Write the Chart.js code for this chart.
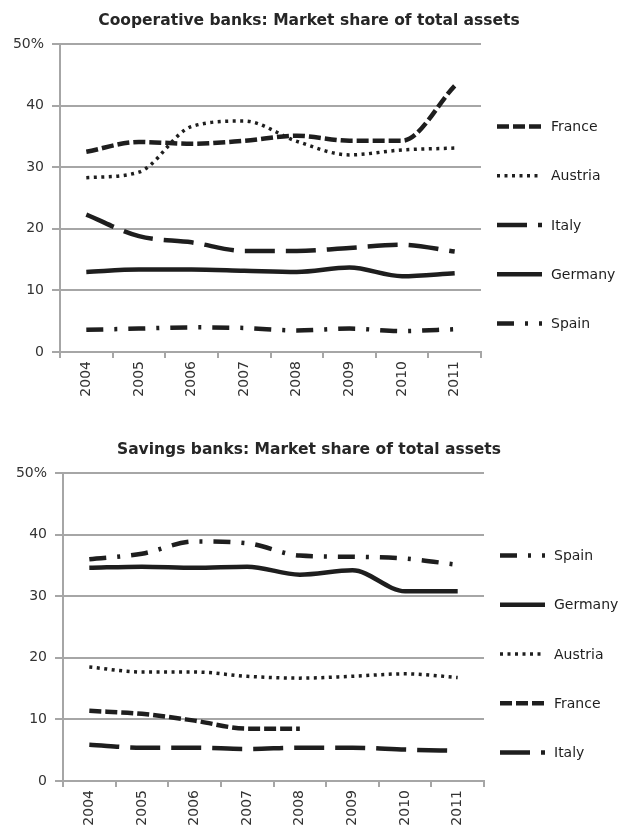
<!DOCTYPE html>
<html>
<head>
<meta charset="utf-8">
<script src="https://cdn.jsdelivr.net/npm/chart.js@4.4.1/dist/chart.umd.min.js"></script>
<style>
  html, body { margin: 0; padding: 0; background: #ffffff; }
  body { width: 618px; height: 830px; position: relative; overflow: hidden; }
  .box { position: absolute; left: 0; width: 618px; height: 398px; }
  #b1 { top: 0; }
  #b2 { top: 429px; }
</style>
</head>
<body>
<div class="box" id="b1"><canvas id="c1" width="618" height="398"></canvas></div>
<div class="box" id="b2"><canvas id="c2" width="618" height="398"></canvas></div>
<script>
// ---- data ----
const years = ['2004', '2005', '2006', '2007', '2008', '2009', '2010', '2011'];
const yTickLabels = ['0', '10', '20', '30', '40', '50%'];

const coopTitle = 'Cooperative banks: Market share of total assets';
const coopNames = ['France', 'Austria', 'Italy', 'Germany', 'Spain'];
const coopFrance  = [32.5, 34.1, 33.8, 34.3, 35.1, 34.3, 34.3, 43.2];
const coopAustria = [28.3, 29.2, 36.6, 37.5, 34.2, 32.0, 32.8, 33.1];
const coopItaly   = [22.3, 18.8, 17.8, 16.4, 16.4, 16.9, 17.4, 16.3];
const coopGermany = [13.0, 13.4, 13.4, 13.2, 13.0, 13.7, 12.3, 12.8];
const coopSpain   = [3.6, 3.8, 4.0, 3.9, 3.5, 3.8, 3.4, 3.7];

const savTitle = 'Savings banks: Market share of total assets';
const savNames = ['Spain', 'Germany', 'Austria', 'France', 'Italy'];
const savSpain   = [36.0, 36.9, 38.9, 38.6, 36.6, 36.4, 36.1, 35.1];
const savGermany = [34.6, 34.8, 34.6, 34.8, 33.5, 34.2, 30.8, 30.8];
const savAustria = [18.5, 17.7, 17.7, 17.0, 16.7, 17.0, 17.4, 16.8];
const savFrance  = [11.4, 10.9, 9.8, 8.5, 8.5, null, null, null];
const savItaly   = [5.9, 5.4, 5.4, 5.2, 5.4, 5.4, 5.1, 4.9];

// ---- styles per country ----
const LINE = '#1e1e1e';
const GRID = '#a6a6a6';
const FONT = '"DejaVu Sans", Verdana, sans-serif';
const styles = {
  France:  { borderWidth: 4.5, borderDash: [12, 4] },
  Austria: { borderWidth: 3.5, borderDash: [3, 4.5] },
  Italy:   { borderWidth: 4.5, borderDash: [30, 11] },
  Germany: { borderWidth: 4.5, borderDash: [] },
  Spain:   { borderWidth: 4.5, borderDash: [17, 11, 3, 11] }
};

function makeDataset(name, values) {
  const s = styles[name];
  return {
    label: name,
    data: values,
    borderColor: LINE,
    backgroundColor: LINE,
    borderWidth: s.borderWidth,
    borderDash: s.borderDash,
    borderCapStyle: 'butt',
    borderJoinStyle: 'round',
    pointRadius: 0,
    pointHoverRadius: 0,
    cubicInterpolationMode: 'monotone',
    tension: 0.4,
    fill: false,
    spanGaps: false
  };
}

const sideLegend = {
  id: 'sideLegend',
  afterDraw(chart) {
    const ctx = chart.ctx;
    const area = chart.chartArea;
    const n = chart.data.datasets.length;
    const mid = (area.top + area.bottom) / 2 + 27;
    const step = 49.2;
    const x0 = area.right + 16;
    ctx.save();
    chart.data.datasets.forEach((ds, i) => {
      const y = mid + (i - (n - 1) / 2) * step;
      ctx.beginPath();
      ctx.strokeStyle = ds.borderColor;
      ctx.lineWidth = ds.borderWidth;
      ctx.lineCap = 'butt';
      ctx.setLineDash(ds.borderDash || []);
      ctx.moveTo(x0, y);
      ctx.lineTo(x0 + 45, y);
      ctx.stroke();
      ctx.setLineDash([]);
      ctx.fillStyle = '#1e1e1e';
      ctx.font = '14px ' + FONT;
      ctx.textAlign = 'left';
      ctx.textBaseline = 'middle';
      ctx.fillText(ds.label, x0 + 54, y + 1);
    });
    ctx.restore();
  }
};

function makeChart(id, title, names, series, leftW, rightW) {
  return new Chart(document.getElementById(id), {
    type: 'line',
    data: {
      labels: years,
      datasets: names.map((nm, i) => makeDataset(nm, series[i]))
    },
    options: {
      responsive: false,
      devicePixelRatio: 1,
      animation: false,
      events: [],
      layout: { padding: 0 },
      plugins: {
        legend: { display: false },
        tooltip: { enabled: false },
        title: {
          display: true,
          text: title,
          color: '#262626',
          font: { family: FONT, size: 15.5, weight: 'bold', lineHeight: 1.2 },
          padding: { top: 12, bottom: 13.4 }
        }
      },
      scales: {
        x: {
          type: 'category',
          offset: true,
          afterFit(axis) { axis.height = 46; },
          grid: {
            display: true,
            offset: true,
            drawOnChartArea: false,
            drawTicks: true,
            tickLength: 6,
            color: GRID,
            lineWidth: 2
          },
          border: { display: true, color: GRID, width: 2 },
          ticks: {
            color: '#333333',
            font: { family: FONT, size: 14 },
            minRotation: 90,
            maxRotation: 90,
            autoSkip: false,
            padding: 3
          }
        },
        y: {
          min: 0,
          max: 50,
          afterFit(axis) { axis.width = leftW; },
          grid: {
            color: GRID,
            lineWidth: 2,
            drawTicks: true,
            tickLength: 8
          },
          border: { display: true, color: GRID, width: 2 },
          ticks: {
            stepSize: 10,
            color: '#333333',
            font: { family: FONT, size: 14 },
            padding: 8,
            callback(value) { return yTickLabels[Math.round(value / 10)]; }
          }
        },
        legendSpace: {
          type: 'linear',
          position: 'right',
          display: true,
          min: 0,
          max: 1,
          afterFit(axis) { axis.width = rightW; },
          grid: { display: false, drawTicks: false },
          border: { display: false },
          ticks: { display: false }
        }
      }
    },
    plugins: [sideLegend]
  });
}

makeChart('c1', coopTitle, coopNames,
  [coopFrance, coopAustria, coopItaly, coopGermany, coopSpain], 60, 137);
makeChart('c2', savTitle, savNames,
  [savSpain, savGermany, savAustria, savFrance, savItaly], 63, 134);
</script>
</body>
</html>
